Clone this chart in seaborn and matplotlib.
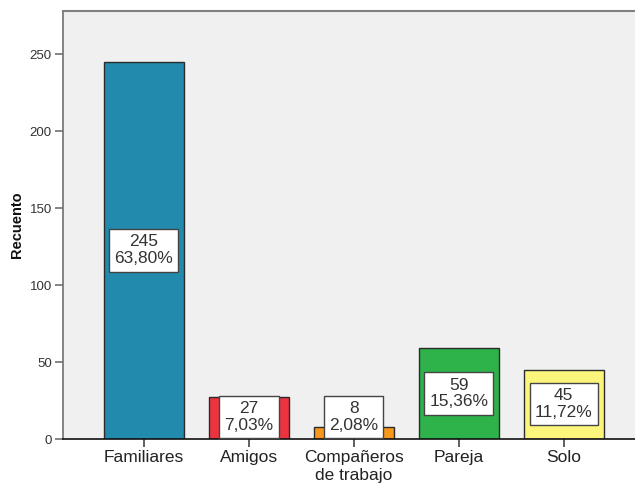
import matplotlib
matplotlib.use("Agg")
import matplotlib.pyplot as plt
import seaborn as sns
import pandas as pd

categorias = ["Familiares", "Amigos", "Compañeros\nde trabajo", "Pareja", "Solo"]
recuentos = [245, 27, 8, 59, 45]
colores = ["#218aad", "#ee333f", "#f7981d", "#2db34a", "#fbf67b"]
yticks = [0, 50, 100, 150, 200, 250]

total = sum(recuentos)
df = pd.DataFrame({"categoria": categorias, "recuento": recuentos})

sns.set_style("white")
plt.rcParams["font.family"] = ["Liberation Sans", "DejaVu Sans"]

fig = plt.figure(figsize=(6.35, 4.88), dpi=100)
ax = fig.add_axes([0.0992, 0.1004, 0.9008, 0.8771])
ax.set_facecolor("#f0f0f0")

sns.barplot(data=df, x="categoria", y="recuento", hue="categoria",
            palette=colores, saturation=1, width=0.76, edgecolor="#2b2b2b",
            linewidth=1.0, legend=False, ax=ax, order=categorias)

# value/percentage boxes centred on each bar, lifted for very short bars
for i, v in enumerate(recuentos):
    ypos = max(v / 2, 14.5)
    ax.text(i, ypos, f"{v}\n{v / total * 100:.2f}%".replace(".", ","),
            ha="center", va="center", fontsize=12.5, color="#333333",
            linespacing=1.15, zorder=5,
            bbox=dict(boxstyle="square,pad=0.3", fc="white", ec="#444444", lw=1.0))

ax.set_xlim(-0.77, 4.68)
ax.set_ylim(0, 278)
ax.set_yticks(yticks)
ax.tick_params(axis="y", labelsize=9.5, length=6, width=1.2, color="#707070",
               labelcolor="#333333", direction="out", left=True, pad=2)
ax.tick_params(axis="x", labelsize=12.5, length=6, width=1.2, color="#444444",
               labelcolor="#222222", direction="out", bottom=True, pad=2)
ax.set_xlabel("")
ax.set_ylabel("Recuento", fontsize=10.5, fontweight="bold", color="#111111", labelpad=4)

ax.spines["right"].set_visible(False)
ax.spines["left"].set_color("#707070")
ax.spines["left"].set_linewidth(1.2)
ax.spines["top"].set_color("#808080")
ax.spines["top"].set_linewidth(1.5)
ax.spines["bottom"].set_color("#111111")
ax.spines["bottom"].set_linewidth(1.2)

fig.savefig("out.png", dpi=100, facecolor="white")
